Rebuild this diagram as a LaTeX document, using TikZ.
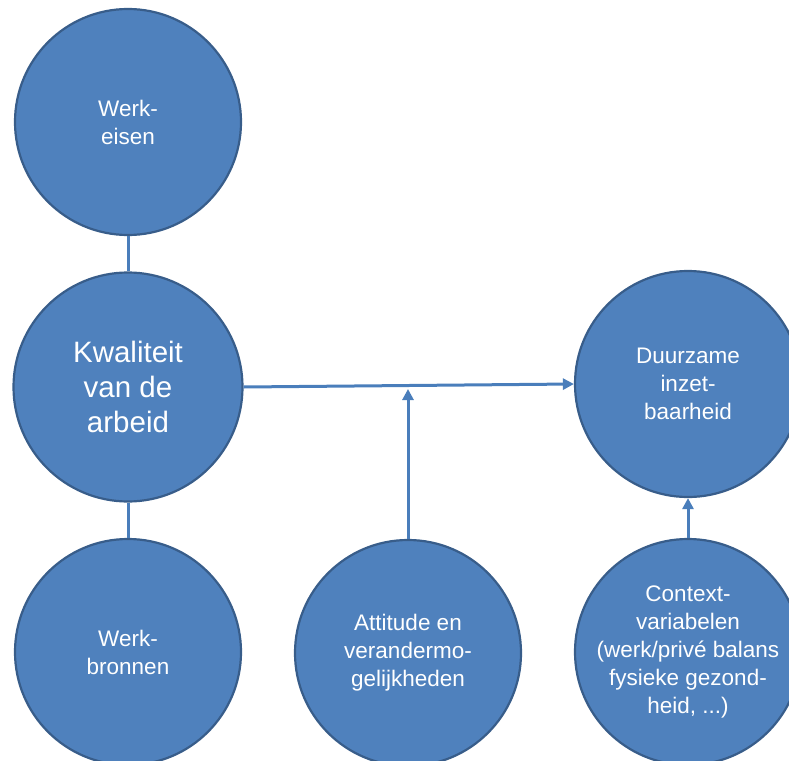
\documentclass[tikz,border=0pt]{standalone}
\usepackage{fontspec}
\setmainfont{Liberation Sans}
\usetikzlibrary{arrows.meta}
\definecolor{cfill}{HTML}{4F81BD}
\definecolor{cborder}{HTML}{385D8A}
\definecolor{cline}{HTML}{4A7EBB}
\tikzset{
  bubble/.style={circle, fill=cfill, draw=cborder, line width=2.2pt, inner sep=0pt,
    minimum size=226pt, text=white, align=center, font=\fontsize{22.5}{28}\selectfont},
  conn/.style={draw=cline, line width=3pt},
  arr/.style={conn, -{Triangle[length=11pt,width=11pt]}}
}
\begin{document}
\begin{tikzpicture}[x=1pt,y=-1pt]
\useasboundingbox (0,0) rectangle (789,760);
\node[bubble] (eisen) at (128,122) {Werk-\\eisen};
\node[bubble, minimum size=229pt, font=\fontsize{29.5}{35}\selectfont] (kwal) at (128,387) {Kwaliteit\\van de\\arbeid};
\node[bubble] (bronnen) at (128,652) {Werk-\\bronnen};
\node[bubble] (att) at (408,653) {Attitude en\\verandermo-\\gelijkheden};
\node[bubble] (duur) at (688,384) {Duurzame\\inzet-\\baarheid};
\node[bubble] (ctx) at (688,652) {Context-\\variabelen\\(werk/privé balans\\fysieke gezond-\\heid, ...)};
\coordinate (join) at (408,389);
\draw[conn] (eisen.south) -- (kwal.north);
\draw[conn] (kwal.south) -- (bronnen.north);
\draw[arr] (kwal.east) -- (duur.west);
\draw[arr] (att.north) -- (join);
\draw[arr] (ctx.north) -- (duur.south);
\end{tikzpicture}
\end{document}
